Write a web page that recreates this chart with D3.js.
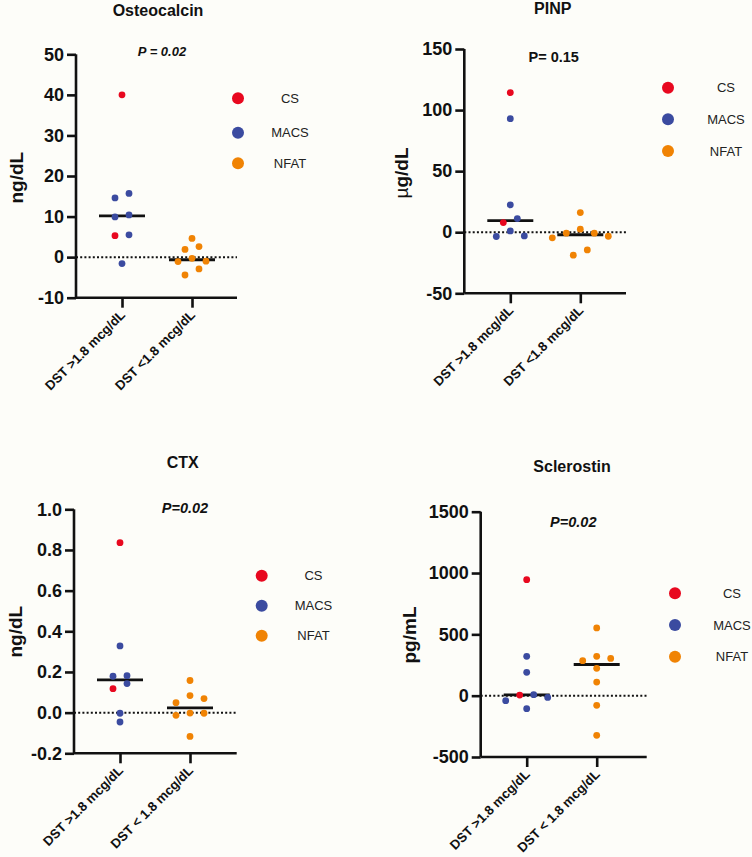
<!DOCTYPE html>
<html><head><meta charset="utf-8">
<script src="https://cdn.jsdelivr.net/npm/d3@7"></script>
<style>html,body{margin:0;padding:0;background:#fdfdf9;}svg{display:block;font-family:"Liberation Sans",Arial,sans-serif;}</style>
</head><body>
<script>
// ---------- DATA ----------
const groupNames = ["CS", "MACS", "NFAT"];
const categoriesA = ["DST >1.8 mcg/dL", "DST <1.8 mcg/dL"];
const categoriesB = ["DST >1.8 mcg/dL", "DST < 1.8 mcg/dL"];

// Osteocalcin (ng/dL)
const osteoCS = [40.0, 5.3];
const osteoMACS = [15.7, 14.6, 10.4, 9.9, 5.5, -1.6];
const osteoNFAT = [4.6, 2.6, 1.9, -0.3, -1.0, -1.1, -2.9, -4.4];
const osteoTicks = [-10, 0, 10, 20, 30, 40, 50];

// PINP (µg/dL)
const pinpCS = [114.3, 7.9];
const pinpMACS = [93.0, 22.4, 11.2, 1.1, -3.0, -3.5];
const pinpNFAT = [16.1, 2.5, -0.8, -0.8, -3.3, -4.6, -14.5, -18.8];
const pinpTicks = [-50, 0, 50, 100, 150];

// CTX (ng/dL)
const ctxCS = [0.836, 0.118];
const ctxMACS = [0.328, 0.182, 0.179, 0.143, -0.003, -0.046];
const ctxNFAT = [0.158, 0.084, 0.069, 0.049, -0.002, -0.003, -0.013, -0.117];
const ctxTicks = [-0.2, 0.0, 0.2, 0.4, 0.6, 0.8, 1.0];

// Sclerostin (pg/mL)
const sclCS = [946, 5];
const sclMACS = [321, 190, 8, -14, -41, -106];
const sclNFAT = [552, 321, 304, 285, 223, 111, -79, -323];
const sclTicks = [-500, 0, 500, 1000, 1500];

const titles = ["Osteocalcin", "PINP", "CTX", "Sclerostin"];
const pLabels = ["P = 0.02", "P= 0.15", "P=0.02", "P=0.02"];
const yLabels = ["ng/dL", "µg/dL", "ng/dL", "pg/mL"];

// ---------- LAYOUT ----------
const colors = {CS: "#e8081f", MACS: "#3b4ba0", NFAT: "#f08304"};
const panels = [
  {title: titles[0], p: pLabels[0], pItalic: true, pSize: 13, ylab: yLabels[0], cats: categoriesA,
   hi: {CS: osteoCS, MACS: osteoMACS}, lo: {NFAT: osteoNFAT}, ticks: osteoTicks, fmt: d3.format("d"),
   ax: 76, top: 54.3, bot: 297.7, xEnd: 237, titleXY: [158, 16], pXY: [162, 55.5], yl: [16.7, 177.7],
   leg: {cx: 238, ys: [98.3, 132.7, 163.3], tx: 290}},
  {title: titles[1], p: pLabels[1], pItalic: false, pSize: 14.5, ylab: yLabels[1], cats: categoriesA,
   hi: {CS: pinpCS, MACS: pinpMACS}, lo: {NFAT: pinpNFAT}, ticks: pinpTicks, fmt: d3.format("d"),
   ax: 464.3, top: 49, bot: 293.3, xEnd: 626, titleXY: [552.7, 14], pXY: [553.7, 62], yl: [401, 173],
   leg: {cx: 668, ys: [87.7, 119.3, 151], tx: 726}},
  {title: titles[2], p: pLabels[2], pItalic: true, pSize: 14.5, ylab: yLabels[2], cats: categoriesB,
   hi: {CS: ctxCS, MACS: ctxMACS}, lo: {NFAT: ctxNFAT}, ticks: ctxTicks, fmt: d3.format(".1f"),
   ax: 74, top: 509.3, bot: 753.3, xEnd: 236.7, titleXY: [182.7, 467.5], pXY: [185, 513], yl: [15, 631.7],
   leg: {cx: 261.7, ys: [575.7, 605.7, 635.7], tx: 313.5}},
  {title: titles[3], p: pLabels[3], pItalic: true, pSize: 14.5, ylab: yLabels[3], cats: categoriesB,
   hi: {CS: sclCS, MACS: sclMACS}, lo: {NFAT: sclNFAT}, ticks: sclTicks, fmt: d3.format("d"),
   ax: 480.7, top: 511.7, bot: 757, xEnd: 646.7, titleXY: [572, 472], pXY: [573.3, 527], yl: [409.3, 635],
   leg: {cx: 675, ys: [593.3, 625, 656.7], tx: 732}}
];

const svg = d3.select("body").append("svg").attr("width", 752).attr("height", 857);
svg.append("rect").attr("width", 752).attr("height", 857).attr("fill", "#fdfdf9");

const DOT_R = 3.4, SLOT = 14, CLUSTER_PX = 7;

function swarm(points, y) {
  const s = points.slice().sort((a, b) => b.v - a.v);
  const clusters = [];
  s.forEach((p, i) => {
    if (i > 0 && Math.abs(y(p.v) - y(s[i - 1].v)) < CLUSTER_PX) clusters[clusters.length - 1].push(p);
    else clusters.push([p]);
  });
  clusters.forEach(c => {
    const n = c.length;
    const slots = [];
    if (n % 2) { slots.push(0); for (let k = 1; slots.length < n; k++) { slots.push(k, -k); } }
    else { for (let k = 0.5; slots.length < n; k++) { slots.push(k, -k); } }
    c.forEach((p, i) => p.off = slots[i] * SLOT);
  });
  return s;
}

panels.forEach(P => {
  const g = svg.append("g");
  const y = d3.scaleLinear().domain(d3.extent(P.ticks)).range([P.bot, P.top]);
  const x = d3.scalePoint().domain(P.cats).range([P.ax + 46, P.ax + 116]);

  // zero dotted line
  g.append("line").attr("x1", P.ax).attr("x2", P.xEnd).attr("y1", y(0)).attr("y2", y(0))
    .attr("stroke", "#111").attr("stroke-width", 2).attr("stroke-dasharray", "2,2.2");

  // y axis
  const yAxis = d3.axisLeft(y).tickValues(P.ticks).tickSize(9).tickPadding(3)
    .tickFormat(d => P.fmt(d).replace("\u2212", "-"));
  const ya = g.append("g").attr("transform", `translate(${P.ax},0)`).call(yAxis);
  ya.select(".domain").attr("stroke", "#111").attr("stroke-width", 2.6).attr("d", `M0,${P.top}V${P.bot}`);
  ya.selectAll(".tick line").attr("stroke", "#111").attr("stroke-width", 2.6);
  ya.selectAll(".tick text").attr("fill", "#111").attr("font-size", 18).attr("font-weight", "bold")
    .attr("font-family", "Liberation Sans, Arial, sans-serif");

  // x axis
  const xAxis = d3.axisBottom(x).tickSize(10).tickFormat("");
  const xa = g.append("g").attr("transform", `translate(0,${P.bot})`).call(xAxis);
  xa.select(".domain").attr("stroke", "#111").attr("stroke-width", 2.6).attr("d", `M${P.ax},0H${P.xEnd}`);
  xa.selectAll(".tick line").attr("stroke", "#111").attr("stroke-width", 2.6);
  P.cats.forEach(c => {
    g.append("text").attr("transform", `translate(${x(c) + 4},${P.bot + 18}) rotate(-45)`)
      .attr("text-anchor", "end").attr("font-size", 13.2).attr("font-weight", "bold").attr("fill", "#111")
      .text(c);
  });

  // points
  const hiPts = [], loPts = [];
  Object.entries(P.hi).forEach(([grp, arr]) => arr.forEach(v => hiPts.push({v, grp})));
  Object.entries(P.lo).forEach(([grp, arr]) => arr.forEach(v => loPts.push({v, grp})));
  [[P.cats[0], hiPts], [P.cats[1], loPts]].forEach(([cat, pts]) => {
    const placed = swarm(pts, y);
    const med = d3.median(pts, d => d.v);
    g.append("line").attr("x1", x(cat) - 23).attr("x2", x(cat) + 23).attr("y1", y(med)).attr("y2", y(med))
      .attr("stroke", "#111").attr("stroke-width", 2.8);
    g.selectAll(null).data(placed).enter().append("circle")
      .attr("cx", d => x(cat) + d.off).attr("cy", d => y(d.v)).attr("r", DOT_R)
      .attr("fill", d => colors[d.grp]);
  });

  // title
  g.append("text").attr("x", P.titleXY[0]).attr("y", P.titleXY[1]).attr("text-anchor", "middle")
    .attr("font-size", 16).attr("font-weight", "bold").attr("fill", "#111").text(P.title);
  // p value
  g.append("text").attr("x", P.pXY[0]).attr("y", P.pXY[1]).attr("text-anchor", "middle")
    .attr("font-size", P.pSize).attr("font-weight", "bold").attr("font-style", P.pItalic ? "italic" : "normal")
    .attr("fill", "#111").text(P.p);
  // y label
  const yl = g.append("text").attr("transform", `translate(${P.yl[0]},${P.yl[1]}) rotate(-90)`)
    .attr("text-anchor", "middle").attr("dominant-baseline", "central")
    .attr("font-size", 19).attr("font-weight", "bold").attr("fill", "#111");
  if (P.ylab.startsWith("µ")) {
    yl.append("tspan").attr("font-weight", "normal").text("µ");
    yl.append("tspan").text(P.ylab.slice(1));
  } else yl.text(P.ylab);

  // legend
  groupNames.forEach((n, i) => {
    g.append("circle").attr("cx", P.leg.cx).attr("cy", P.leg.ys[i]).attr("r", 6).attr("fill", colors[n]);
    g.append("text").attr("x", P.leg.tx).attr("y", P.leg.ys[i]).attr("text-anchor", "middle")
      .attr("dominant-baseline", "central").attr("font-size", 13).attr("fill", "#222").text(n);
  });
});
</script>
</body></html>
